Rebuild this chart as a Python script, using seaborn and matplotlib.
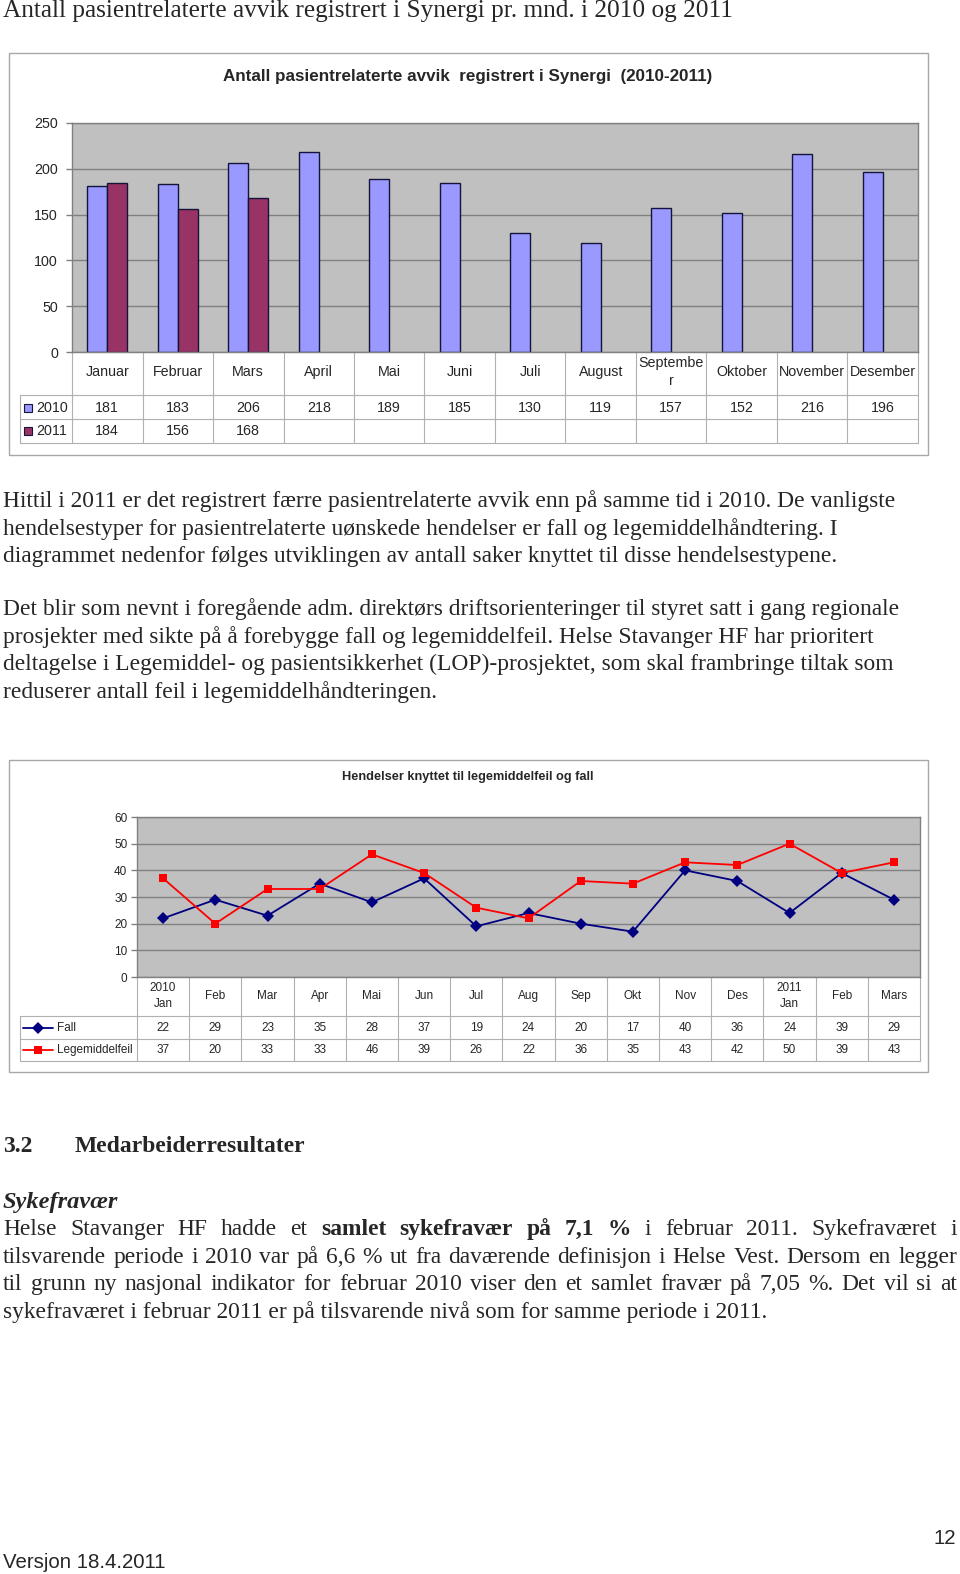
import numpy as np
import pandas as pd
import seaborn as sns
import matplotlib
matplotlib.use("Agg")
import matplotlib.pyplot as plt
from matplotlib.transforms import blended_transform_factory
from matplotlib.patches import Rectangle

# --- data -------------------------------------------------------------
maaneder = ["Januar", "Februar", "Mars", "April", "Mai", "Juni", "Juli",
            "August", "September", "Oktober", "November", "Desember"]
maaned_etiketter = ["Januar", "Februar", "Mars", "April", "Mai", "Juni", "Juli",
                    "August", "Septembe\nr", "Oktober", "November", "Desember"]
avvik_2010 = [181, 183, 206, 218, 189, 185, 130, 119, 157, 152, 216, 196]
avvik_2011 = [184, 156, 168]

perioder = ["2010\nJan", "Feb", "Mar", "Apr", "Mai", "Jun", "Jul", "Aug",
            "Sep", "Okt", "Nov", "Des", "2011\nJan", "Feb", "Mars"]
fall = [22, 29, 23, 35, 28, 37, 19, 24, 20, 17, 40, 36, 24, 39, 29]
legemiddelfeil = [37, 20, 33, 33, 46, 39, 26, 22, 36, 35, 43, 42, 50, 39, 43]

sidetittel = "Antall pasientrelaterte avvik registrert i Synergi pr. mnd. i 2010 og 2011"
tittel1 = "Antall pasientrelaterte avvik  registrert i Synergi  (2010-2011)"
tittel2 = "Hendelser knyttet til legemiddelfeil og fall"

avsnitt1 = ["Hittil i 2011 er det registrert færre pasientrelaterte avvik enn på samme tid i 2010. De vanligste",
            "hendelsestyper for pasientrelaterte uønskede hendelser er fall og legemiddelhåndtering. I",
            "diagrammet nedenfor følges utviklingen av antall saker knyttet til disse hendelsestypene."]
avsnitt2 = ["Det blir som nevnt i foregående adm. direktørs driftsorienteringer til styret satt i gang regionale",
            "prosjekter med sikte på å forebygge fall og legemiddelfeil. Helse Stavanger HF har prioritert",
            "deltagelse i Legemiddel- og pasientsikkerhet (LOP)-prosjektet, som skal frambringe tiltak som",
            "reduserer antall feil i legemiddelhåndteringen."]
avsnitt3 = ["Helse Stavanger HF hadde et *samlet *sykefravær *på *7,1 *% i februar 2011. Sykefraværet i",
            "tilsvarende periode i 2010 var på 6,6 % ut fra daværende definisjon i Helse Vest. Dersom en legger",
            "til grunn ny nasjonal indikator for februar 2010 viser den et samlet fravær på 7,05 %. Det vil si at",
            "sykefraværet i februar 2011 er på tilsvarende nivå som for samme periode i 2011."]

sns.set_theme(style="white")
SANS = "Liberation Sans"
SERIF = "Liberation Serif"
plt.rcParams["font.family"] = [SANS, "DejaVu Sans"]

W, H = 960, 1574
fig = plt.figure(figsize=(W / 100, H / 100), dpi=100)
page = fig.add_axes([0, 0, 1, 1], zorder=0)
page.set_xlim(0, W)
page.set_ylim(H, 0)
page.axis("off")
renderer = fig.canvas.get_renderer()


def fax(l, t, r, b):
    return fig.add_axes([l / W, 1 - b / H, (r - l) / W, (b - t) / H], zorder=2)


def width_of(s, **kw):
    t = page.text(0, 0, s, **kw)
    w = t.get_window_extent(renderer).width
    t.remove()
    return w


def fit(s, target, **kw):
    return 10 * target / width_of(s, fontsize=10, **kw)


grid_c = "#808080"
tab_c = "#B0B0B0"
box_c = "#A8A8A8"
fs1 = 10.3   # chart 1 text
fs2 = 8.5    # chart 2 text

# --- page title -----------------------------------------------------------
st = fit(sidetittel, 728, family=SERIF)
page.text(3, 17, sidetittel, family=SERIF, fontsize=st, va="baseline")

# --- chart 1 ---------------------------------------------------------------
page.add_patch(Rectangle((9, 53), 919, 402, fill=False, ec=box_c, lw=1))
page.text(468, 77, tittel1, fontsize=fit(tittel1, 490, weight="bold"),
          weight="bold", ha="center", va="center")

ax1 = fax(72, 123, 918, 352)
df1 = pd.DataFrame({
    "Måned": maaneder + maaneder[:len(avvik_2011)],
    "Antall": avvik_2010 + avvik_2011,
    "År": ["2010"] * len(avvik_2010) + ["2011"] * len(avvik_2011),
})
farger1 = {"2010": "#9999FF", "2011": "#993366"}
sns.barplot(data=df1, x="Måned", y="Antall", hue="År", order=maaneder,
            hue_order=["2010", "2011"], palette=farger1, width=0.57,
            edgecolor="#14143A", linewidth=1.0, errorbar=None, legend=False,
            saturation=1, ax=ax1)
ax1.set_facecolor("#C0C0C0")
ax1.set_ylim(0, 250)
ax1.set_yticks(range(0, 251, 50))
ax1.set_xlim(-0.5, 11.5)
ax1.grid(axis="y", color=grid_c, lw=1)
ax1.grid(axis="x", visible=False)
ax1.set_axisbelow(True)
ax1.set_xlabel("")
ax1.set_ylabel("")
ax1.tick_params(axis="x", bottom=False, labelbottom=False)
ax1.tick_params(axis="y", left=True, length=4, width=1, color=grid_c,
                labelsize=fs1, pad=6)
for s in ax1.spines.values():
    s.set_color(grid_c)
    s.set_linewidth(1)

T1 = blended_transform_factory(ax1.transData, page.transData)
for b in np.arange(-0.5, len(maaneder)):
    page.plot([b, b], [352, 443], transform=T1, color=tab_c, lw=0.8, clip_on=False)
page.plot([20, 20], [395, 443], color=tab_c, lw=0.8)
for y in (395, 419, 443):
    page.plot([20, 918], [y, y], color=tab_c, lw=0.8)
for i, lab in enumerate(maaned_etiketter):
    page.text(i, 372, lab, transform=T1, ha="center", va="center",
              fontsize=fs1, linespacing=1.3)
for i, v in enumerate(avvik_2010):
    page.text(i, 408, str(v), transform=T1, ha="center", va="center", fontsize=fs1)
for i, v in enumerate(avvik_2011):
    page.text(i, 431, str(v), transform=T1, ha="center", va="center", fontsize=fs1)
for y, aar in ((408, "2010"), (431, "2011")):
    page.add_patch(Rectangle((23.5, y - 4), 8, 8, fc=farger1[aar], ec="#14143A", lw=0.8))
    page.text(36, y, aar, ha="left", va="center", fontsize=fs1)

# --- body text -------------------------------------------------------------
bs = fit(avsnitt1[0], 896, family=SERIF)
for k, line in enumerate(avsnitt1):
    page.text(3, 507 + k * 27.7, line, family=SERIF, fontsize=bs, va="baseline")
for k, line in enumerate(avsnitt2):
    page.text(3, 615 + k * 27.7, line, family=SERIF, fontsize=bs, va="baseline")

# --- chart 2 ---------------------------------------------------------------
page.add_patch(Rectangle((9, 760), 919, 312, fill=False, ec=box_c, lw=1))
page.text(468, 777, tittel2, fontsize=fit(tittel2, 253, weight="bold"),
          weight="bold", ha="center", va="center")

ax2 = fax(137, 817, 920, 977)
df2 = pd.DataFrame({
    "Periode": list(range(len(fall))) + list(range(len(legemiddelfeil))),
    "Antall": fall + legemiddelfeil,
    "Type": ["Fall"] * len(fall) + ["Legemiddelfeil"] * len(legemiddelfeil),
})
farger2 = {"Fall": "#000080", "Legemiddelfeil": "#FF0000"}
merker = {"Fall": "D", "Legemiddelfeil": "s"}
sns.lineplot(data=df2, x="Periode", y="Antall", hue="Type", style="Type",
             palette=farger2, markers=merker, dashes=False, linewidth=1.3,
             markersize=5.8, markeredgewidth=0, legend=False, ax=ax2)
ax2.set_facecolor("#C0C0C0")
ax2.set_ylim(0, 60)
ax2.set_yticks(range(0, 61, 10))
ax2.set_xlim(-0.5, len(perioder) - 0.5)
ax2.grid(axis="y", color=grid_c, lw=1)
ax2.grid(axis="x", visible=False)
ax2.set_axisbelow(True)
ax2.set_xlabel("")
ax2.set_ylabel("")
ax2.tick_params(axis="x", bottom=False, labelbottom=False)
ax2.tick_params(axis="y", left=True, length=4, width=1, color=grid_c,
                labelsize=fs2, pad=3)
for s in ax2.spines.values():
    s.set_color(grid_c)
    s.set_linewidth(1)

T2 = blended_transform_factory(ax2.transData, page.transData)
for b in np.arange(-0.5, len(perioder)):
    page.plot([b, b], [977, 1061], transform=T2, color=tab_c, lw=0.8, clip_on=False)
page.plot([20, 20], [1016, 1061], color=tab_c, lw=0.8)
for y in (1016, 1039, 1061):
    page.plot([20, 920], [y, y], color=tab_c, lw=0.8)
for i, lab in enumerate(perioder):
    page.text(i, 996, lab, transform=T2, ha="center", va="center",
              fontsize=fs2, linespacing=1.4)
for i, v in enumerate(fall):
    page.text(i, 1028, str(v), transform=T2, ha="center", va="center", fontsize=fs2)
for i, v in enumerate(legemiddelfeil):
    page.text(i, 1050, str(v), transform=T2, ha="center", va="center", fontsize=fs2)
for y, navn in ((1028, "Fall"), (1050, "Legemiddelfeil")):
    page.plot([23, 53], [y, y], color=farger2[navn], lw=1.3)
    page.plot([38], [y], marker=merker[navn], color=farger2[navn], ms=5.8, mew=0)
    page.text(57, y, navn, ha="left", va="center", fontsize=fs2)

# --- section 3.2 ------------------------------------------------------------
hs = fit("Medarbeiderresultater", 232, family=SERIF, weight="bold")
page.text(3, 1152, "3.2", family=SERIF, weight="bold", fontsize=hs, va="baseline")
page.text(75, 1152, "Medarbeiderresultater", family=SERIF, weight="bold",
          fontsize=hs, va="baseline")
page.text(3, 1208, "Sykefravær", family=SERIF, weight="bold", style="italic",
          fontsize=fit("Sykefravær", 115, family=SERIF, weight="bold", style="italic"),
          va="baseline")


def ord_liste(line):
    out = []
    for w in line.split(" "):
        if w.startswith("*"):
            out.append((w[1:], "bold"))
        else:
            out.append((w, "normal"))
    return out


for k, line in enumerate(avsnitt3):
    y = 1235 + k * 27.7
    words = ord_liste(line)
    if k == len(avsnitt3) - 1:
        page.text(3, y, " ".join(w for w, _ in words), family=SERIF,
                  fontsize=bs, va="baseline")
        continue
    widths = [width_of(w, family=SERIF, fontsize=bs, weight=wt) for w, wt in words]
    gap = (957 - 3 - sum(widths)) / (len(words) - 1)
    x = 3
    for (w, wt), wd in zip(words, widths):
        page.text(x, y, w, family=SERIF, fontsize=bs, weight=wt, va="baseline")
        x += wd + gap

# --- footer ----------------------------------------------------------------
fs = fit("Versjon 18.4.2011", 163)
page.text(3, 1562, "Versjon 18.4.2011", fontsize=fs, va="center")
page.text(956, 1538, "12", fontsize=fs, ha="right", va="center")

fig.savefig("out.png", dpi=100)
